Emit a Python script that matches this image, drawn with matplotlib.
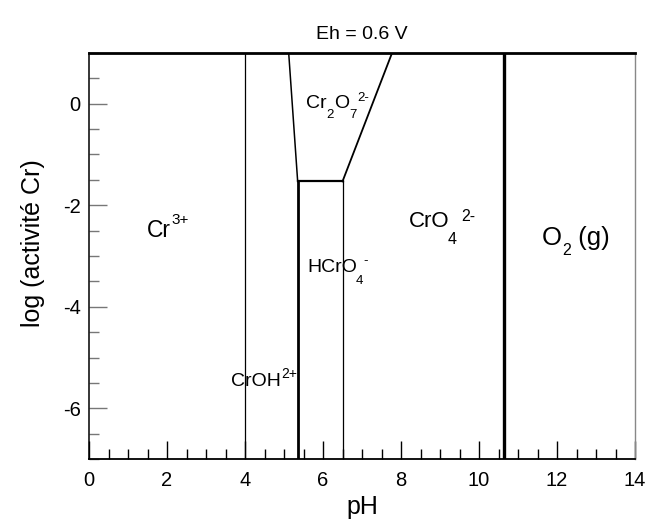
import matplotlib
matplotlib.use("Agg")
import matplotlib.pyplot as plt
from matplotlib.ticker import MultipleLocator

plt.rcParams["font.family"] = ["Liberation Sans", "DejaVu Sans"]
plt.rcParams["axes.unicode_minus"] = False

# boundary lines (pH, log activity)
cr3_croh_x = [4.0, 4.0]
cr3_croh_y = [-7, 1]
croh_hcro4_x = [5.35, 5.35]
croh_hcro4_y = [-7, -1.53]
croh_cr2o7_x = [5.35, 5.12]
croh_cr2o7_y = [-1.53, 1]
hcro4_cr2o7_x = [5.35, 6.5]
hcro4_cr2o7_y = [-1.53, -1.53]
hcro4_cro4_x = [6.5, 6.5]
hcro4_cro4_y = [-7, -1.53]
cr2o7_cro4_x = [6.5, 7.77]
cr2o7_cro4_y = [-1.53, 1]
cro4_o2_x = [10.65, 10.65]
cro4_o2_y = [-7, 1]

# field labels: (x, baseline y, main size, [(text, gap pt, baseline shift pt, size)])
labels = [
    (1.48, -2.62, 16.5, [("Cr", 0, 0, 16.5), ("3+", 0.3, 9.5, 11)]),
    (8.19, -2.42, 16, [("CrO", 0, 0, 16), ("4", -1.0, -12, 11.5), ("2-", 3.0, 4.8, 11.5)]),
    (11.61, -2.78, 18.5, [("O", 0, 0, 18.5), ("2", 0.3, -7.2, 11.5), (" (g)", 0, 0, 18.5)]),
    (5.56, -0.09, 14, [("Cr", 0, 0, 14), ("2", 0, -7.2, 9.5), ("O", 0, 0, 14),
                       ("7", 0, -7.2, 9.5), ("2-", 1.0, 4.8, 9.5)]),
    (5.60, -3.32, 14, [("HCrO", 0, 0, 14), ("4", -0.8, -8.5, 9.5), ("-", 0, 6, 9.5)]),
    (3.64, -5.56, 14, [("CrOH", 0, 0, 14), ("2+", 0.3, 5.5, 10)]),
]


def descent(size):
    return 0.21 * size


fig = plt.figure(figsize=(6.46, 5.24), dpi=100)
ax = fig.add_axes([0.1378, 0.124, 0.8452, 0.7749])

ax.plot(cr3_croh_x, cr3_croh_y, color="k", lw=0.9)
ax.plot(croh_hcro4_x, croh_hcro4_y, color="k", lw=2)
ax.plot(croh_cr2o7_x, croh_cr2o7_y, color="k", lw=1.1)
ax.plot(hcro4_cr2o7_x, hcro4_cr2o7_y, color="k", lw=1.6)
ax.plot(hcro4_cro4_x, hcro4_cro4_y, color="k", lw=0.9)
ax.plot(cr2o7_cro4_x, cr2o7_cro4_y, color="k", lw=1.3)
ax.plot(cro4_o2_x, cro4_o2_y, color="k", lw=2.4)

for x, y, size, parts in labels:
    base = ax.text(x, y, parts[0][0], fontsize=parts[0][3], va="baseline", ha="left")
    prev = base
    for s, gap, dy, fs in parts[1:]:
        prev = ax.annotate(s, xy=(1, 0), xycoords=(prev, base),
                           xytext=(gap, dy + descent(size) - descent(fs)),
                           textcoords="offset points", fontsize=fs,
                           va="bottom", ha="left")

ax.set_xlim(0, 14)
ax.set_ylim(-7, 1)
ax.xaxis.set_major_locator(MultipleLocator(2))
ax.xaxis.set_minor_locator(MultipleLocator(0.5))
ax.yaxis.set_major_locator(MultipleLocator(2))
ax.yaxis.set_minor_locator(MultipleLocator(0.5))
ax.tick_params(axis="both", which="both", direction="in", labelsize=14.5)
ax.tick_params(axis="x", which="both", pad=8.5)
ax.tick_params(axis="y", which="both", pad=6)
ax.tick_params(axis="both", which="major", length=13, width=1)
ax.tick_params(axis="both", which="minor", length=7, width=1)
ax.tick_params(axis="y", which="both", color="#777777")

ax.spines["top"].set_linewidth(2)
ax.spines["bottom"].set_linewidth(1.3)
ax.spines["left"].set_linewidth(1.1)
ax.spines["right"].set_linewidth(1)
ax.spines["right"].set_color("#888888")

ax.set_xlabel("pH", fontsize=18, labelpad=4)
ax.set_ylabel("log (activité Cr)", fontsize=18, labelpad=13, y=0.532)
ax.set_title("Eh = 0.6 V", fontsize=14, pad=10)

plt.savefig("out.png", dpi=100)
